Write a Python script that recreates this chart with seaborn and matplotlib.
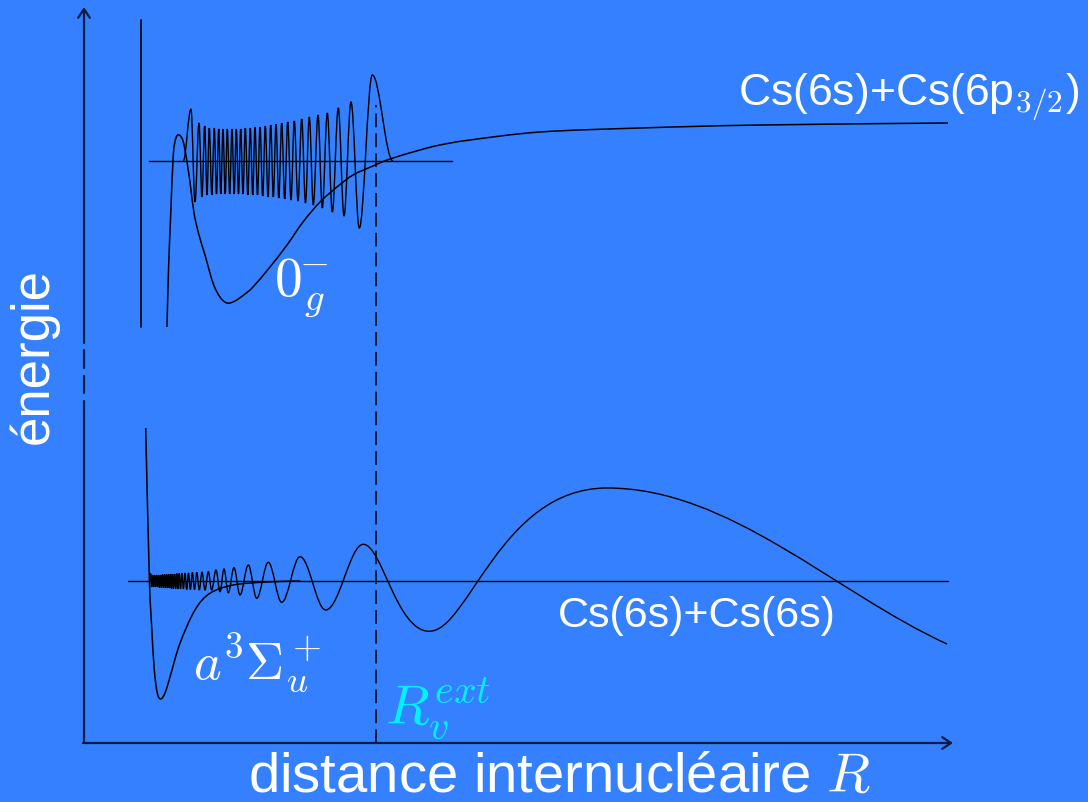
import matplotlib
matplotlib.use("Agg")
import matplotlib.pyplot as plt
import seaborn as sns
import pandas as pd
from matplotlib.path import Path
from matplotlib.patches import PathPatch

# ---- potential curves (R, energy in arbitrary units) ----
pot_0g_R = [8.30, 8.45, 8.67, 8.93, 9.20, 9.53, 9.87, 10.10, 10.30, 10.60, 11.00,
            11.50, 12.10, 12.90, 13.60, 14.30, 15.10, 16.10, 16.90, 18.60, 20.30,
            21.90, 23.60, 25.30, 26.90, 28.90, 30.60, 33.60, 35.60, 38.60, 45.60,
            55.60, 67.60, 86.40]
pot_0g_E = [41.6, 47.3, 52.8, 58.8, 60.5, 60.8, 60.3, 59.3, 58.1, 56.1, 53.0,
            50.8, 48.8, 46.0, 44.6, 44.0, 44.2, 44.9, 45.6, 47.6, 49.8,
            52.1, 54.1, 55.6, 56.8, 57.7, 58.4, 59.3, 59.8, 60.3, 61.1,
            61.5, 61.8, 62.0]

pot_a3_R = [6.17, 6.53, 6.77, 7.03, 7.33, 7.67, 8.10, 8.60, 9.60, 11.10, 12.60,
            14.93, 18.27, 21.60]
pot_a3_E = [31.5, 16.6, 11.6, 7.3, 5.0, 4.4, 5.0, 6.6, 9.97, 13.3, 14.97,
            15.8, 16.1, 16.2]

# inner repulsive wall of the excited state
wall_R = [5.7, 5.7]
wall_E = [41.6, 72.3]

# ---- energy levels of the two vibrational states ----
level_up_R = [6.5, 36.8]
level_up_E = [58.2, 58.2]
level_lo_R = [4.4, 86.4]
level_lo_E = [16.2, 16.2]

# ---- vibrational wavefunctions: successive extrema (R, E) ----
psi_up_R = [9.93, 10.70, 11.10, 11.50, 11.80, 12.07, 12.30, 12.53, 12.78, 13.03,
            13.25, 13.47, 13.68, 13.90, 14.12, 14.33, 14.57, 14.80, 15.02, 15.23,
            15.45, 15.67, 15.90, 16.13, 16.38, 16.63, 16.87, 17.10, 17.35, 17.60,
            17.87, 18.13, 18.40, 18.67, 18.93, 19.20, 19.48, 19.77, 20.07, 20.37,
            20.70, 21.03, 21.40, 21.77, 22.15, 22.53, 22.93, 23.40, 23.83, 24.33,
            24.83, 25.43, 26.00, 26.70, 27.53, 28.83, 30.90]
psi_up_E = [58.2, 63.4, 54.1, 62.0, 54.6, 61.7, 54.8, 61.5, 54.8, 61.5,
            54.9, 61.4, 54.9, 61.4, 54.9, 61.4, 54.9, 61.4, 54.9, 61.4,
            54.9, 61.4, 54.9, 61.5, 54.8, 61.5, 54.8, 61.6, 54.8, 61.6,
            54.7, 61.7, 54.6, 61.8, 54.6, 61.9, 54.5, 62.0, 54.4, 62.1,
            54.3, 62.2, 54.2, 62.4, 54.0, 62.6, 53.8, 62.8, 53.5, 63.0,
            53.1, 63.5, 52.7, 64.1, 51.5, 66.8, 58.2]

psi_lo_R = [6.55, 6.67, 6.75, 6.85, 6.95, 7.05, 7.15, 7.25, 7.35, 7.45,
            7.55, 7.65, 7.75, 7.85, 7.95, 8.05, 8.15, 8.25, 8.35, 8.45,
            8.55, 8.65, 8.75, 8.85, 8.95, 9.06, 9.17, 9.28, 9.40, 9.52,
            9.65, 9.79, 9.94, 10.10, 10.27, 10.45, 10.64, 10.84, 11.05, 11.28,
            11.53, 11.80, 12.10, 12.43, 12.77, 13.20, 13.60, 14.00, 14.43, 15.00,
            15.60, 16.43, 17.27, 18.43, 19.77, 21.60, 24.17, 27.93, 34.53, 52.30,
            86.30]
psi_lo_E = [16.2, 16.95, 15.6, 16.8, 15.6, 16.8, 15.6, 16.8, 15.6, 16.8,
            15.55, 16.8, 15.55, 16.85, 15.55, 16.85, 15.5, 16.85, 15.5, 16.85,
            15.5, 16.9, 15.45, 16.9, 15.45, 16.9, 15.45, 16.95, 15.4, 16.95,
            15.4, 17.0, 15.4, 17.0, 15.35, 17.0, 15.35, 17.05, 15.35, 17.05,
            15.3, 17.1, 15.3, 17.13, 15.3, 17.3, 15.13, 17.4, 15.03, 17.53,
            14.8, 17.8, 14.47, 18.07, 14.07, 18.63, 13.3, 19.87, 11.17, 25.5,
            9.9]

# outer turning point R_v^ext
R_ext = 29.2
R_ext_top = 63.8

# axes: arrow tips and the break on the energy axis
x_tip = 86.9
y_tip = 73.6
y_axis_pieces = [(0.0, 34.2), (35.0, 36.7), (37.5, 39.3)]
y_upper_start = 40.0

BG = "#3580fe"
AXC = "#0d1d40"
LINE = "black"

sns.set_theme(style="white")
plt.rcParams["font.family"] = ["Liberation Sans", "DejaVu Sans"]
plt.rcParams["mathtext.fontset"] = "cm"

fig = plt.figure(figsize=(10.88, 8.02), dpi=100)
fig.patch.set_facecolor(BG)
ax = fig.add_axes([0, 0, 1, 1])
ax.set_facecolor(BG)
ax.set_xlim(-8.4, 100.4)
ax.set_ylim(-5.9, 74.3)
ax.axis("off")


def wave_path(R, E, flat_start=True, flat_end=True, h=0.36, handles=None):
    """Smooth path through successive extrema (horizontal tangents)."""
    handles = handles or {}
    verts = [(R[0], E[0])]
    codes = [Path.MOVETO]
    n = len(R)
    for i in range(n - 1):
        dx = R[i + 1] - R[i]
        dy = E[i + 1] - E[i]
        h1, h2 = handles.get(i, (h, h))
        if i == 0 and not flat_start:
            c1 = (R[i] + dx / 3, E[i] + dy / 3)
        else:
            c1 = (R[i] + h1 * dx, E[i])
        if i == n - 2 and not flat_end:
            c2 = (R[i + 1] - dx / 3, E[i + 1] - dy / 3)
        else:
            c2 = (R[i + 1] - h2 * dx, E[i + 1])
        verts += [c1, c2, (R[i + 1], E[i + 1])]
        codes += [Path.CURVE4] * 3
    return Path(verts, codes)


def smooth_path(R, E):
    """Catmull-Rom style path through the given points."""
    pts = list(zip(R, E))
    verts = [pts[0]]
    codes = [Path.MOVETO]
    n = len(pts)
    for i in range(n - 1):
        p0 = pts[i - 1] if i > 0 else pts[i]
        p1, p2 = pts[i], pts[i + 1]
        p3 = pts[i + 2] if i + 2 < n else pts[i + 1]
        c1 = (p1[0] + (p2[0] - p0[0]) / 6, p1[1] + (p2[1] - p0[1]) / 6)
        c2 = (p2[0] - (p3[0] - p1[0]) / 6, p2[1] - (p3[1] - p1[1]) / 6)
        verts += [c1, c2, p2]
        codes += [Path.CURVE4] * 3
    return Path(verts, codes)


def curve(R, E, **kw):
    df = pd.DataFrame({"R": R, "E": E})
    kw.setdefault("color", LINE)
    sns.lineplot(data=df, x="R", y="E", sort=False, estimator=None, ax=ax, **kw)


# potentials
ax.add_patch(PathPatch(smooth_path(pot_0g_R, pot_0g_E), fc="none", ec=LINE, lw=1.1))
ax.add_patch(PathPatch(smooth_path(pot_a3_R, pot_a3_E), fc="none", ec=LINE, lw=1.1))
curve(wall_R, wall_E, lw=1.2)

# vibrational levels
curve(level_up_R, level_up_E, lw=1.0)
curve(level_lo_R, level_lo_E, lw=1.0)

# wavefunctions
ax.add_patch(PathPatch(wave_path(psi_up_R, psi_up_E), fc="none", ec=LINE, lw=1.0))
n_lo = len(psi_lo_R)
ax.add_patch(PathPatch(wave_path(psi_lo_R, psi_lo_E, flat_end=False,
                                 handles={n_lo - 4: (0.28, 0.5),
                                          n_lo - 3: (0.22, 0.6)}),
                       fc="none", ec=LINE, lw=1.0))

# outer turning point
curve([R_ext, R_ext], [0, R_ext_top], lw=1.1, linestyle=(0, (9, 4)))

# axes with arrows (energy axis is broken in the middle)
for y0, y1 in y_axis_pieces:
    curve([0, 0], [y0, y1], lw=1.6, color=AXC)
arrow = dict(arrowstyle="->,head_length=0.45,head_width=0.3", lw=1.6,
             color=AXC, shrinkA=0, shrinkB=0, mutation_scale=14)
ax.annotate("", xy=(0, y_tip), xytext=(0, y_upper_start), arrowprops=arrow)
ax.annotate("", xy=(x_tip, 0), xytext=(-0.1, 0), arrowprops=arrow)

# labels
WHITE = "white"
ax.text(65.4, 63.8, r"Cs(6s)+Cs(6p$_{3/2}$)", color=WHITE, fontsize=32,
        ha="left", va="baseline")
ax.text(47.4, 11.6, "Cs(6s)+Cs(6s)", color=WHITE, fontsize=31,
        ha="left", va="baseline")
ax.text(19.0, 44.8, r"$0_g^{\!\!-}$", color=WHITE, fontsize=40,
        ha="left", va="baseline")
ax.text(10.9, 6.4, r"$a^3\Sigma_u^+$", color=WHITE, fontsize=38,
        ha="left", va="baseline")
ax.text(30.1, 1.8, r"$R_v^{ext}$", color="#00f2ff", fontsize=41,
        ha="left", va="baseline")
ax.text(-5.0, 38.7, "énergie", color=WHITE, fontsize=38, rotation=90,
        ha="center", va="center")
ax.text(16.4, -4.85, r"distance internucléaire $R$", color=WHITE, fontsize=40.5,
        ha="left", va="baseline")

fig.savefig("out.png", dpi=100, facecolor=BG)
